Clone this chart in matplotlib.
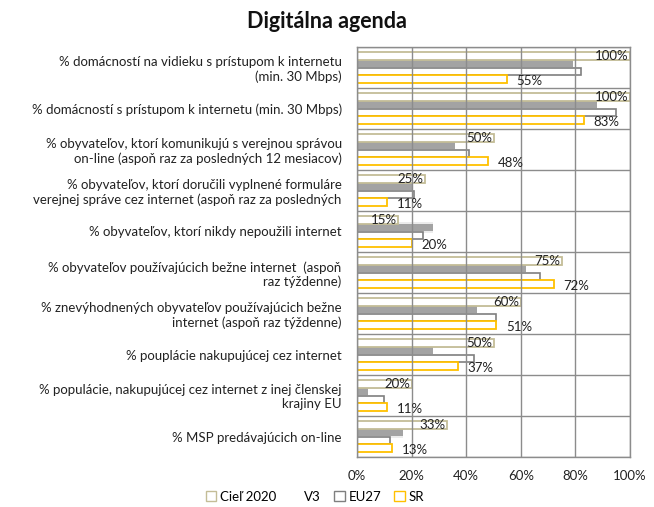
import numpy as np
import matplotlib
matplotlib.use("Agg")
import matplotlib.pyplot as plt
from matplotlib.patches import Patch

plt.rcParams['font.family'] = ['Lato', 'DejaVu Sans']

categories = [
    "% domácností na vidieku s prístupom k internetu\n(min. 30 Mbps)",
    "% domácností s prístupom k internetu (min. 30 Mbps)",
    "% obyvateľov, ktorí komunikujú s verejnou správou\non-line (aspoň raz za posledných 12 mesiacov)",
    "% obyvateľov, ktorí doručili vyplnené formuláre\nverejnej správe cez internet (aspoň raz za posledných",
    "% obyvateľov, ktorí nikdy nepoužili internet",
    "% obyvateľov používajúcich bežne internet  (aspoň\nraz týždenne)",
    "% znevýhodnených obyvateľov používajúcich bežne\ninternet (aspoň raz týždenne)",
    "% pouplácie nakupujúcej cez internet",
    "% populácie, nakupujúcej cez internet z inej členskej\nkrajiny EU",
    "% MSP predávajúcich on-line",
]
ciel_2020 = [100, 100, 50, 25, 15, 75, 60, 50, 20, 33]
v3 = [79, 88, 36, 20, 28, 62, 44, 28, 4, 17]
eu27 = [82, 95, 41, 21, 24, 67, 51, 43, 10, 12]
sr = [55, 83, 48, 11, 20, 72, 51, 37, 11, 13]
x_ticks = [0, 20, 40, 60, 80, 100]
x_labels = ["0%", "20%", "40%", "60%", "80%", "100%"]

c_ciel = "#c4bd97"
c_v3 = "#a3a3a3"
c_eu = "#7f7f7f"
c_sr = "#ffc000"
grid_c = "#8c8c8c"
fs = 9.5

fig = plt.figure(figsize=(6.54, 5.07), dpi=100)
ax = fig.add_axes([357/654, 1 - 457/507, (630-357)/654, 410/507])

y = np.arange(len(categories))
h = 0.18
off = [-0.285, -0.095, 0.095, 0.285]

# Cieľ 2020
ax.barh(y + off[0] + 0.03, ciel_2020, height=h, color="#d9d9d9", alpha=0.5, linewidth=0, zorder=1)
ax.barh(y + off[0], ciel_2020, height=h, facecolor="white", edgecolor=c_ciel, linewidth=1.3, zorder=2)
# V3 with soft halo
ax.barh(y + off[1], v3, height=h + 0.1, color=c_v3, alpha=0.2, linewidth=0, zorder=1)
ax.barh(y + off[1], v3, height=h, color=c_v3, linewidth=0, zorder=1.5)
# EU27
ax.barh(y + off[2], eu27, height=h, facecolor="white", edgecolor=c_eu, linewidth=1.2, zorder=2)
# SR
ax.barh(y + off[3], sr, height=h, facecolor="white", edgecolor=c_sr, linewidth=1.3, zorder=2)

for i in range(len(categories)):
    ax.text(ciel_2020[i] - 0.5, y[i] + off[0], f"{ciel_2020[i]}%", ha="right", va="center",
            fontsize=fs, color="#222222", zorder=4)
    ax.text(sr[i] + 3.5, y[i] + off[3] + 0.04, f"{sr[i]}%", ha="left", va="center",
            fontsize=fs, color="#222222", zorder=4)

ax.set_xlim(0, 100)
ax.set_ylim(len(categories) - 0.5, -0.5)
ax.set_xticks(x_ticks)
ax.set_xticklabels(x_labels, fontsize=fs, color="#222222")
ax.set_yticks(y)
ax.set_yticklabels(categories, fontsize=fs, color="#222222")
ax.set_yticks(np.arange(len(categories) + 1) - 0.5, minor=True)
ax.tick_params(axis="both", length=0, which="both")
ax.tick_params(axis="x", pad=9)
ax.tick_params(axis="y", pad=11)
ax.grid(axis="x", color=grid_c, linewidth=1.0, zorder=3)
ax.grid(axis="y", which="minor", color=grid_c, linewidth=1.0, zorder=3)
ax.set_axisbelow(False)
for s in ax.spines.values():
    s.set_color(grid_c)
    s.set_linewidth(1.0)

fig.text(0.5, 1 - 21/507, "Digitálna agenda", ha="center", va="center",
         fontsize=15.5, fontweight="bold", color="#111111")

handles = [
    Patch(facecolor="white", edgecolor=c_ciel, linewidth=1.0),
    Patch(facecolor="white", edgecolor="white", linewidth=0),
    Patch(facecolor="white", edgecolor=c_eu, linewidth=1.0),
    Patch(facecolor="white", edgecolor=c_sr, linewidth=1.0),
]
fig.legend(handles, ["Cieľ 2020", "V3", "EU27", "SR"], loc="center",
           bbox_to_anchor=(315/654, 1 - 497/507), ncol=4, frameon=False,
           fontsize=fs, handlelength=0.8, handleheight=0.8, handletextpad=0.3,
           columnspacing=1.0)

fig.savefig("out.png", dpi=100)
